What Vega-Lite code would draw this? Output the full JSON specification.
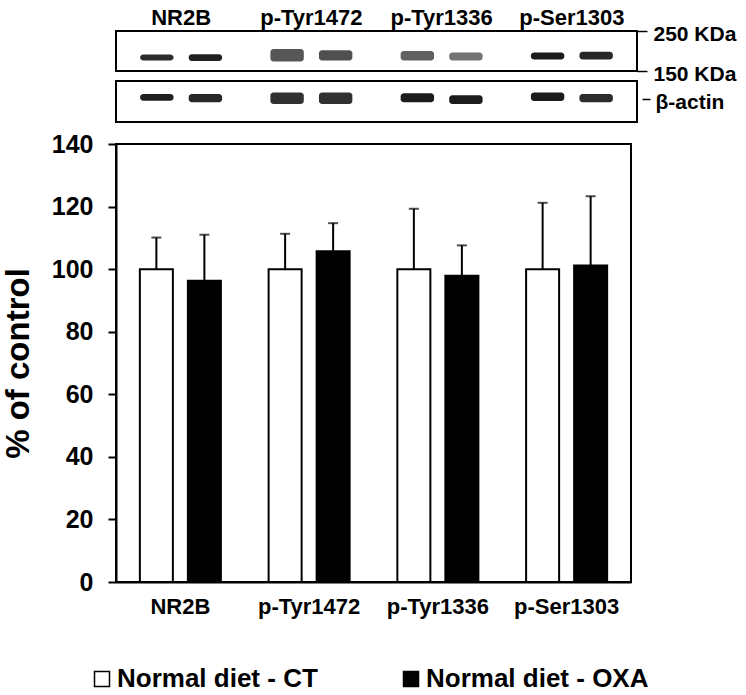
{
  "$schema": "https://vega.github.io/schema/vega-lite/v6.json",
  "background": "white",
  "padding": {"left": 1, "top": 5, "right": 5, "bottom": 5},
  "config": {
    "font": "Liberation Sans",
    "view": {"stroke": "black", "strokeWidth": 2},
    "axis": {
      "labelFont": "Liberation Sans",
      "labelFontWeight": "bold",
      "labelColor": "black",
      "titleFont": "Liberation Sans",
      "titleColor": "black",
      "domainColor": "black",
      "tickColor": "black",
      "grid": false
    },
    "legend": {"labelFont": "Liberation Sans", "layout": {"bottom": {"anchor": "middle"}}}
  },
  "datasets": {
    "bars": [
      {"protein": "NR2B", "group": "Normal diet - CT", "mean": 100, "upper": 110.1},
      {"protein": "NR2B", "group": "Normal diet - OXA", "mean": 96.3, "upper": 111.0},
      {"protein": "p-Tyr1472", "group": "Normal diet - CT", "mean": 100, "upper": 111.3},
      {"protein": "p-Tyr1472", "group": "Normal diet - OXA", "mean": 105.7, "upper": 114.7},
      {"protein": "p-Tyr1336", "group": "Normal diet - CT", "mean": 100, "upper": 119.3},
      {"protein": "p-Tyr1336", "group": "Normal diet - OXA", "mean": 97.9, "upper": 107.6},
      {"protein": "p-Ser1303", "group": "Normal diet - CT", "mean": 100, "upper": 121.2},
      {"protein": "p-Ser1303", "group": "Normal diet - OXA", "mean": 101.2, "upper": 123.3}
    ],
    "blot": [
      {"protein": "NR2B", "group": "Normal diet - CT", "kda_low": 176, "kda_high": 191, "intensity": 0.9},
      {"protein": "NR2B", "group": "Normal diet - OXA", "kda_low": 175, "kda_high": 192, "intensity": 0.95},
      {"protein": "p-Tyr1472", "group": "Normal diet - CT", "kda_low": 174, "kda_high": 205, "intensity": 0.72},
      {"protein": "p-Tyr1472", "group": "Normal diet - OXA", "kda_low": 176, "kda_high": 202, "intensity": 0.75},
      {"protein": "p-Tyr1336", "group": "Normal diet - CT", "kda_low": 176, "kda_high": 200, "intensity": 0.68},
      {"protein": "p-Tyr1336", "group": "Normal diet - OXA", "kda_low": 176, "kda_high": 196, "intensity": 0.6},
      {"protein": "p-Ser1303", "group": "Normal diet - CT", "kda_low": 179, "kda_high": 196, "intensity": 0.97},
      {"protein": "p-Ser1303", "group": "Normal diet - OXA", "kda_low": 179, "kda_high": 198, "intensity": 0.92}
    ],
    "actin": [
      {"protein": "NR2B", "group": "Normal diet - CT", "low": 52, "high": 68, "intensity": 0.95},
      {"protein": "NR2B", "group": "Normal diet - OXA", "low": 48, "high": 68, "intensity": 0.92},
      {"protein": "p-Tyr1472", "group": "Normal diet - CT", "low": 44, "high": 72, "intensity": 0.88},
      {"protein": "p-Tyr1472", "group": "Normal diet - OXA", "low": 44, "high": 72, "intensity": 0.88},
      {"protein": "p-Tyr1336", "group": "Normal diet - CT", "low": 48, "high": 70, "intensity": 0.97},
      {"protein": "p-Tyr1336", "group": "Normal diet - OXA", "low": 44, "high": 65, "intensity": 0.97},
      {"protein": "p-Ser1303", "group": "Normal diet - CT", "low": 51, "high": 72, "intensity": 0.97},
      {"protein": "p-Ser1303", "group": "Normal diet - OXA", "low": 48, "high": 68, "intensity": 0.9}
    ]
  },
  "spacing": 8,
  "resolve": {"scale": {"x": "independent", "y": "independent", "xOffset": "independent"}},
  "vconcat": [
    {
      "spacing": 10,
      "bounds": "flush",
      "resolve": {"scale": {"x": "independent", "y": "independent", "xOffset": "independent"}},
      "vconcat": [
        {
          "width": 521,
          "height": 40,
          "data": {"name": "blot"},
          "mark": {"type": "rect", "color": "#151515", "cornerRadius": 3},
          "encoding": {
            "x": {
              "field": "protein", "type": "nominal",
              "sort": ["NR2B", "p-Tyr1472", "p-Tyr1336", "p-Ser1303"],
              "scale": {"paddingInner": 0, "paddingOuter": 0},
              "axis": {"orient": "top", "ticks": false, "domain": false, "labelAngle": 0, "labelFontSize": 22, "labelPadding": 1.5, "title": null}
            },
            "xOffset": {
              "field": "group", "type": "nominal",
              "sort": ["Normal diet - CT", "Normal diet - OXA"],
              "scale": {"paddingInner": 0.3125, "paddingOuter": 0.497}
            },
            "y": {
              "field": "kda_low", "type": "quantitative",
              "scale": {"domain": [150, 250], "nice": false, "zero": false},
              "axis": {"orient": "right", "values": [150, 250], "labelExpr": "datum.value + ' KDa'", "tickSize": 10, "tickWidth": 1.5, "domain": false, "labelFontSize": 21, "labelPadding": 6, "labelOffset": 3, "title": null}
            },
            "y2": {"field": "kda_high"},
            "opacity": {"field": "intensity", "type": "quantitative", "scale": null, "legend": null}
          }
        },
        {
          "width": 521,
          "height": 41,
          "data": {"name": "actin"},
          "mark": {"type": "rect", "color": "#151515", "cornerRadius": 3},
          "encoding": {
            "x": {
              "field": "protein", "type": "nominal",
              "sort": ["NR2B", "p-Tyr1472", "p-Tyr1336", "p-Ser1303"],
              "scale": {"paddingInner": 0, "paddingOuter": 0},
              "axis": null
            },
            "xOffset": {
              "field": "group", "type": "nominal",
              "sort": ["Normal diet - CT", "Normal diet - OXA"],
              "scale": {"paddingInner": 0.3125, "paddingOuter": 0.497}
            },
            "y": {
              "field": "low", "type": "quantitative",
              "scale": {"domain": [0, 100], "nice": false},
              "axis": {"orient": "right", "values": [56], "labelExpr": "'β-actin'", "offset": 5, "tickSize": 8, "tickWidth": 1.5, "domain": false, "labelFontSize": 21, "labelPadding": 5, "labelOffset": 3, "title": null}
            },
            "y2": {"field": "high"},
            "opacity": {"field": "intensity", "type": "quantitative", "scale": null, "legend": null}
          }
        }
      ]
    },
    {
      "width": 515,
      "height": 438,
      "data": {"name": "bars"},
      "encoding": {
        "x": {
          "field": "protein", "type": "nominal",
          "sort": ["NR2B", "p-Tyr1472", "p-Tyr1336", "p-Ser1303"],
          "scale": {"paddingInner": 0, "paddingOuter": 0},
          "axis": {"title": null, "ticks": false, "domainWidth": 2, "labelFontSize": 22, "labelPadding": 14, "labelAngle": 0}
        },
        "xOffset": {
          "field": "group", "type": "nominal",
          "sort": ["Normal diet - CT", "Normal diet - OXA"],
          "scale": {"paddingInner": 0.3125, "paddingOuter": 0.497}
        }
      },
      "layer": [
        {
          "mark": {"type": "bar", "stroke": "black", "strokeWidth": 2},
          "encoding": {
            "y": {
              "field": "mean", "type": "quantitative",
              "scale": {"domain": [0, 140], "nice": false},
              "axis": {"title": "% of control", "titleFontSize": 33, "titleFontWeight": "bold", "titlePadding": 16, "values": [0, 20, 40, 60, 80, 100, 120, 140], "tickSize": 8, "tickWidth": 2, "domainWidth": 2, "labelFontSize": 25, "labelPadding": 15}
            },
            "fill": {
              "field": "group", "type": "nominal",
              "sort": ["Normal diet - CT", "Normal diet - OXA"],
              "scale": {"domain": ["Normal diet - CT", "Normal diet - OXA"], "range": ["white", "black"]},
              "legend": {"title": null, "orient": "bottom", "direction": "horizontal", "symbolType": "square", "symbolSize": 225, "symbolStrokeColor": "black", "symbolStrokeWidth": 1.5, "labelFontSize": 26, "labelFontWeight": "bold", "labelColor": "black", "labelLimit": 400, "columnPadding": 80, "labelOffset": 2, "offset": 48}
            }
          }
        },
        {
          "mark": {"type": "rule", "strokeWidth": 2, "color": "black"},
          "encoding": {
            "y": {"field": "mean", "type": "quantitative"},
            "y2": {"field": "upper"}
          }
        },
        {
          "mark": {"type": "tick", "color": "black", "thickness": 2, "size": 10},
          "encoding": {
            "y": {"field": "upper", "type": "quantitative"}
          }
        }
      ]
    }
  ]
}
